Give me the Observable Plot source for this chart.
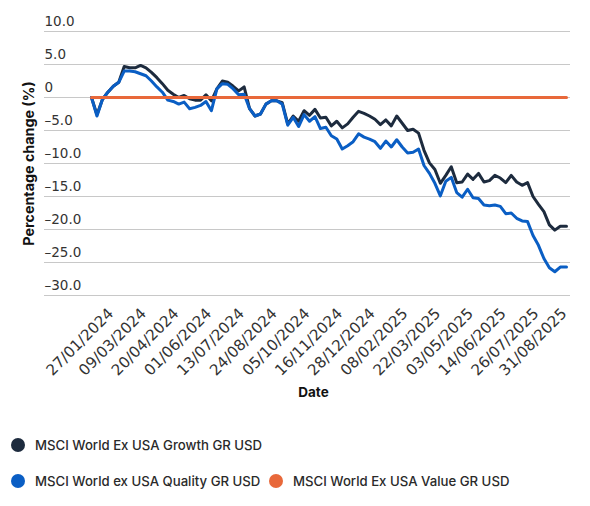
<!DOCTYPE html>
<html>
<head>
<meta charset="utf-8">
<script src="https://cdn.jsdelivr.net/npm/d3@7"></script>
<script src="https://cdn.jsdelivr.net/npm/@observablehq/plot@0.6"></script>
<style>
  body { margin: 0; background: #fff; }
  #wrap { position: relative; width: 590px; height: 506px; }
  .item { position: absolute; display: flex; align-items: center; font-family: Inter, sans-serif; font-size: 13.2px; font-weight: 500; color: #2a2a2a; }
  .dot { width: 14px; height: 14px; border-radius: 50%; margin-right: 10px; }
</style>
</head>
<body>
<div id="wrap">
  <div id="chart"></div>
  <div class="item" style="left:11px; top:437px;"><span class="dot" style="background:#1d2b3e"></span>MSCI World Ex USA Growth GR USD</div>
  <div class="item" style="left:11px; top:473px;"><span class="dot" style="background:#0a5ec4"></span>MSCI World ex USA Quality GR USD</div>
  <div class="item" style="left:269px; top:473px;"><span class="dot" style="background:#e8683a"></span>MSCI World Ex USA Value GR USD</div>
</div>
<script>
// weekly observations, 30/12/2023 .. 31/08/2025
const weeks = d3.utcSaturday.range(new Date("2023-12-30"), new Date("2025-08-31"));
weeks[weeks.length - 1] = new Date("2025-08-31");

const growth = [
  0, -2.6, -0.3, 0.8, 1.7, 2.3, 4.7, 4.5, 4.5, 4.85,
  4.5, 3.8, 3.0, 2.1, 1.1, 0.5, 0.0, 0.3, -0.2, -0.4,
  -0.4, 0.4, -0.5, 1.3, 2.5, 2.3, 1.7, 1.0, 1.6, -1.7,
  -2.8, -2.5, -1.0, -0.5, -0.5, -0.8, -4.0, -2.8, -3.6, -2.0,
  -2.7, -1.8, -3.1, -3.0, -4.3, -3.6, -4.6, -4.0, -3.0, -2.1,
  -2.4, -2.8, -3.3, -4.1, -3.4, -4.3, -2.8, -3.9, -5.0, -4.8,
  -5.4, -8.0, -9.9, -10.9, -13.0, -11.8, -10.5, -12.9, -12.8, -11.6,
  -12.4, -11.5, -12.8, -12.6, -11.8, -12.2, -12.9, -11.8, -12.8, -13.3,
  -12.9, -15.0, -16.2, -17.3, -19.3, -20.1, -19.5, -19.5
];
const quality = [
  0, -2.8, -0.3, 0.8, 1.7, 2.3, 4.0, 4.0, 3.9, 3.6,
  3.3, 2.5, 1.6, 0.8, -0.4, -0.6, -1.0, -0.7, -1.7, -1.5,
  -1.2, -0.6, -2.0, 1.3, 2.1, 2.0, 1.3, 0.4, 0.5, -1.7,
  -2.8, -2.5, -1.0, -0.5, -0.5, -1.0, -4.2, -3.0, -4.4, -2.6,
  -3.6, -2.9, -4.7, -4.5, -5.8, -6.3, -7.8, -7.3, -6.7, -5.5,
  -6.0, -6.3, -6.7, -7.7, -6.6, -7.5, -6.4, -7.5, -8.4, -8.3,
  -7.8, -10.3, -11.5, -13.0, -14.9, -12.7, -12.1, -14.4, -15.1, -13.9,
  -15.2, -15.3, -16.3, -16.4, -16.3, -16.5, -17.6, -17.5, -18.3, -18.7,
  -18.8, -20.9, -22.4, -24.4, -25.8, -26.4, -25.7, -25.7
];
const value = [
  0, 0, 0, 0, 0, 0, 0, 0, 0, 0,
  0, 0, 0, 0, 0, 0, 0, 0, 0, 0,
  0, 0, 0, 0, 0, 0, 0, 0, 0, 0,
  0, 0, 0, 0, 0, 0, 0, 0, 0, 0,
  0, 0, 0, 0, 0, 0, 0, 0, 0, 0,
  0, 0, 0, 0, 0, 0, 0, 0, 0, 0,
  0, 0, 0, 0, 0, 0, 0, 0, 0, 0,
  0, 0, 0, 0, 0, 0, 0, 0, 0, 0,
  0, 0, 0, 0, 0, 0, 0, 0
];

const yTicks = [10, 5, 0, -5, -10, -15, -20, -25, -30];
const yTickLabels = ["10.0", "5.0", "0", "\u20135.0", "\u201310.0", "\u201315.0", "\u201320.0", "\u201325.0", "\u201330.0"];
const xTickLabels = [
  "27/01/2024", "09/03/2024", "20/04/2024", "01/06/2024", "13/07/2024",
  "24/08/2024", "05/10/2024", "16/11/2024", "28/12/2024", "08/02/2025",
  "22/03/2025", "03/05/2025", "14/06/2025", "26/07/2025", "31/08/2025"
];
const parseDMY = s => { const [d, m, y] = s.split("/"); return new Date(Date.UTC(+y, m - 1, +d)); };
const xTicks = xTickLabels.map(parseDMY);

const rows = (vals) => weeks.map((date, i) => ({date, v: vals[i]}));

const chart = Plot.plot({
  width: 590,
  height: 410,
  marginLeft: 44,
  marginRight: 20,
  marginTop: 31,
  marginBottom: 115,
  style: {fontFamily: "DejaVu Sans", background: "#fff"},
  x: {type: "utc", insetLeft: 47, insetRight: 4, axis: null},
  y: {domain: [-30, 10], axis: null},
  marks: [
    Plot.ruleY(yTicks, {stroke: "#c8c8c8", strokeWidth: 1}),
    Plot.text(yTicks, {
      y: d => d, text: (d, i) => yTickLabels[i], frameAnchor: "left",
      textAnchor: "start", dy: -10, fontSize: 13.5, fill: "#333"
    }),
    Plot.text(xTicks, {
      x: d => d, text: (d, i) => xTickLabels[i], frameAnchor: "bottom",
      textAnchor: "end", rotate: -45, dx: 1, dy: 19, fontSize: 15.2, fill: "#333"
    }),
    Plot.text(["Percentage change (%)"], {
      frameAnchor: "left", textAnchor: "middle", rotate: -90, dx: -15, fontSize: 14.3,
      fontWeight: "bold", fill: "#111", fontFamily: "Inter"
    }),
    Plot.text(["Date"], {
      frameAnchor: "bottom", textAnchor: "middle", dx: 6, dy: 101, fontSize: 13.5,
      fontWeight: "bold", fill: "#111", fontFamily: "Inter"
    }),
    Plot.line(rows(growth), {x: "date", y: "v", stroke: "#1d2b3e", strokeWidth: 3}),
    Plot.line(rows(quality), {x: "date", y: "v", stroke: "#0a5ec4", strokeWidth: 3}),
    Plot.line(rows(value), {x: "date", y: "v", stroke: "#e8683a", strokeWidth: 3})
  ]
});
document.getElementById("chart").append(chart);
</script>
</body>
</html>
